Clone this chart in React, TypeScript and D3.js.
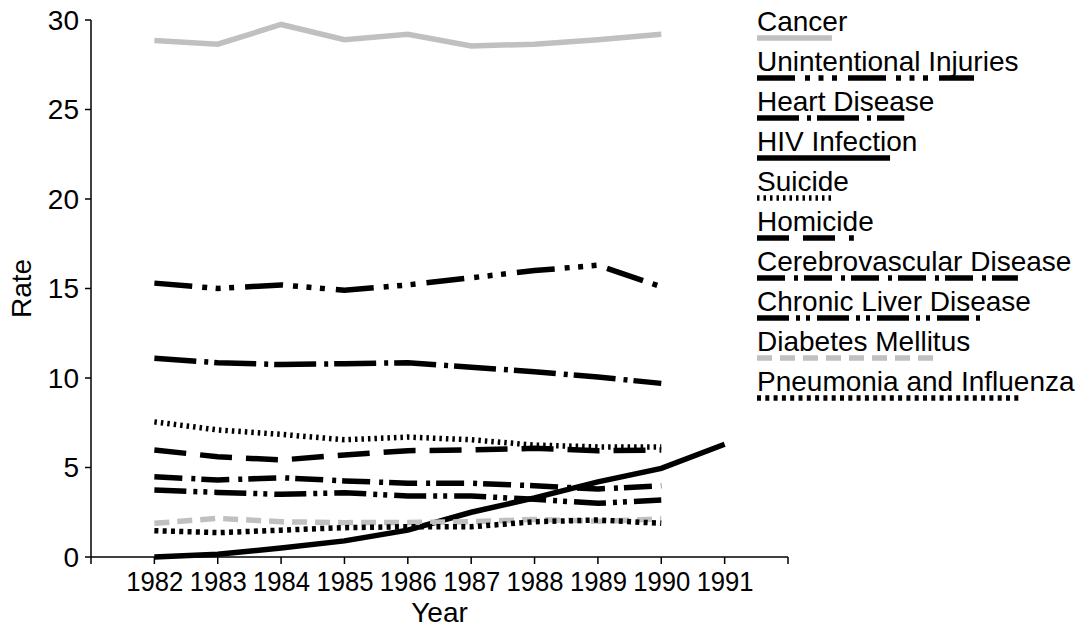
import React, { useEffect, useRef } from "react";
import * as d3 from "d3";

const years = [1982, 1983, 1984, 1985, 1986, 1987, 1988, 1989, 1990];
const hivYears = [1982, 1983, 1984, 1985, 1986, 1987, 1988, 1989, 1990, 1991];
const xTicks = [1981, 1982, 1983, 1984, 1985, 1986, 1987, 1988, 1989, 1990, 1991, 1992];
const xTickLabels = ["", "1982", "1983", "1984", "1985", "1986", "1987", "1988", "1989", "1990", "1991", ""];
const yTicks = [0, 5, 10, 15, 20, 25, 30];

const cancer = [28.85, 28.65, 29.75, 28.9, 29.2, 28.55, 28.65, 28.9, 29.2];
const injuries = [15.3, 15.0, 15.2, 14.9, 15.2, 15.6, 16.0, 16.3, 15.1];
const heart = [11.1, 10.85, 10.75, 10.8, 10.85, 10.6, 10.35, 10.05, 9.7];
const hiv = [0.0, 0.15, 0.5, 0.9, 1.5, 2.5, 3.3, 4.2, 4.95, 6.3];
const suicide = [7.55, 7.1, 6.85, 6.55, 6.7, 6.55, 6.25, 6.15, 6.15];
const homicide = [5.98, 5.6, 5.42, 5.7, 5.94, 5.98, 6.07, 5.94, 5.98];
const cerebro = [4.49, 4.3, 4.43, 4.25, 4.12, 4.12, 3.98, 3.8, 3.98];
const liver = [3.74, 3.61, 3.5, 3.59, 3.41, 3.41, 3.22, 3.0, 3.18];
const diabetes = [1.88, 2.16, 1.97, 1.92, 1.93, 1.97, 2.1, 2.0, 2.12];
const pneumonia = [1.47, 1.36, 1.5, 1.64, 1.69, 1.69, 1.97, 2.07, 1.88];

const seriesNames = [
  "Cancer",
  "Unintentional Injuries",
  "Heart Disease",
  "HIV Infection",
  "Suicide",
  "Homicide",
  "Cerebrovascular Disease",
  "Chronic Liver Disease",
  "Diabetes Mellitus",
  "Pneumonia and Influenza",
];
const seriesValues = [cancer, injuries, heart, hiv, suicide, homicide, cerebro, liver, diabetes, pneumonia];
const seriesColors = ["#c0c0c0", "#000", "#000", "#000", "#000", "#000", "#000", "#000", "#c0c0c0", "#000"];
const seriesDashes = [
  "none",
  "38,10,5,8.5,5,8.5,5,11",
  "42,8,4,6",
  "none",
  "2.5,4",
  "32,14",
  "28,9,4,6",
  "32,7,4,6,4,7",
  "15,8",
  "4,4.3",
];

const FONT = "'Liberation Sans', Arial, sans-serif";
const FS = 28;

export default function App() {
  const ref = useRef<SVGSVGElement>(null);

  useEffect(() => {
    const svg = d3.select(ref.current);
    svg.selectAll("*").remove();

    const x = d3.scaleLinear().domain([1981, 1992]).range([91, 788]);
    const y = d3.scaleLinear().domain([0, 30]).range([557, 20]);

    const g = svg.append("g").attr("font-family", FONT).attr("font-size", FS);

    g.append("line").attr("x1", x(1981)).attr("x2", x(1992)).attr("y1", y(0)).attr("y2", y(0))
      .attr("stroke", "#000").attr("stroke-width", 1.5);
    g.append("line").attr("x1", x(1981)).attr("x2", x(1981)).attr("y1", y(0)).attr("y2", y(30))
      .attr("stroke", "#000").attr("stroke-width", 1.5);

    xTicks.forEach((t, i) => {
      g.append("line").attr("x1", x(t)).attr("x2", x(t)).attr("y1", y(0)).attr("y2", y(0) + 7)
        .attr("stroke", "#000").attr("stroke-width", 1.5);
      if (xTickLabels[i]) {
        g.append("text").attr("x", x(t) - 28).attr("y", 591)
          .attr("textLength", 57).attr("lengthAdjust", "spacingAndGlyphs").text(xTickLabels[i]);
      }
    });
    yTicks.forEach((t) => {
      g.append("line").attr("x1", x(1981) - 6).attr("x2", x(1981)).attr("y1", y(t)).attr("y2", y(t))
        .attr("stroke", "#000").attr("stroke-width", 1.5);
      g.append("text").attr("x", 79).attr("y", y(t)).attr("dy", "0.35em").attr("text-anchor", "end").text(String(t));
    });

    g.append("text").attr("x", (x(1981) + x(1992)) / 2).attr("y", 622).attr("text-anchor", "middle").text("Year");
    g.append("text").attr("transform", `translate(31,${(y(0) + y(30)) / 2}) rotate(-90)`)
      .attr("text-anchor", "middle").text("Rate");

    seriesValues.forEach((vals, i) => {
      const yrs = vals.length === hivYears.length ? hivYears : years;
      const line = d3.line<number>().x((_, j) => x(yrs[j])).y((d) => y(d));
      g.append("path").attr("d", line(vals) as string).attr("fill", "none")
        .attr("stroke", seriesColors[i]).attr("stroke-width", 5.5)
        .attr("stroke-dasharray", seriesDashes[i]).attr("stroke-linejoin", "miter");
    });

    seriesNames.forEach((name, i) => {
      const by = 31 + 40 * i;
      const txt = g.append("text").attr("x", 757).attr("y", by).text(name);
      const w = (txt.node() as SVGTextElement).getComputedTextLength();
      g.append("line").attr("x1", 757).attr("x2", 757 + w * 0.83).attr("y1", by + 7).attr("y2", by + 7)
        .attr("stroke", seriesColors[i]).attr("stroke-width", 5.5).attr("stroke-dasharray", seriesDashes[i]);
    });
  }, []);

  return <svg ref={ref} width={1088} height={629} style={{ position: "absolute", left: 0, top: 0 }} />;
}
